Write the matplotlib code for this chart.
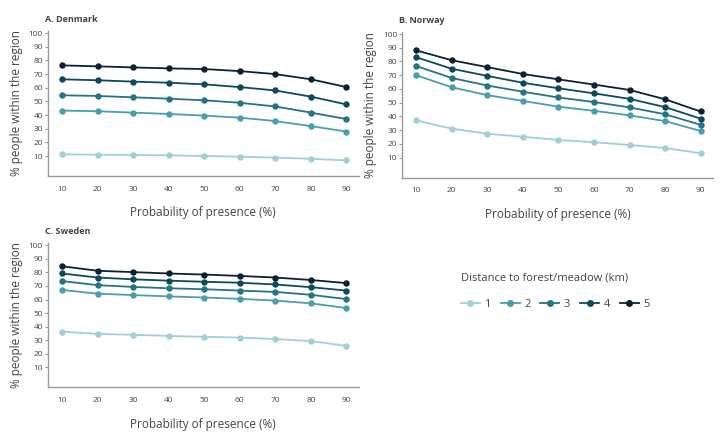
import matplotlib
matplotlib.use('Agg')
import matplotlib.pyplot as plt
from matplotlib.lines import Line2D

plt.rcParams['font.family'] = ['Open Sans', 'DejaVu Sans']

# Probability of presence (%)
prob = [10, 20, 30, 40, 50, 60, 70, 80, 90]

# Distance to forest/meadow: 1..5 km
distances = ['1', '2', '3', '4', '5']
colors = ['#9fcfd8', '#4b9eab', '#267483', '#0d4a5a', '#0b2233']

# A. Denmark
denmark_1 = [11.2, 11.0, 10.7, 10.5, 10.0, 9.5, 8.8, 8.0, 6.8]
denmark_2 = [43.3, 42.8, 41.8, 40.8, 39.6, 38.1, 35.6, 31.9, 27.9]
denmark_3 = [54.5, 54.0, 53.0, 52.0, 50.8, 49.0, 46.3, 41.8, 37.1]
denmark_4 = [66.2, 65.5, 64.5, 63.7, 62.5, 60.5, 58.0, 53.5, 47.8]
denmark_5 = [76.4, 75.7, 74.9, 74.2, 73.7, 72.2, 70.0, 66.2, 60.5]

# B. Norway
norway_1 = [37.1, 31.1, 27.4, 25.2, 22.9, 21.2, 19.2, 17.0, 13.2]
norway_2 = [70.0, 61.2, 55.5, 51.3, 47.1, 44.1, 40.8, 36.6, 29.4]
norway_3 = [76.7, 68.0, 62.5, 58.0, 53.8, 50.5, 46.6, 41.6, 33.9]
norway_4 = [83.1, 74.7, 69.5, 64.5, 60.5, 56.8, 52.8, 46.8, 38.4]
norway_5 = [88.1, 80.9, 75.9, 70.9, 67.0, 63.2, 59.3, 52.5, 43.6]

# C. Sweden
sweden_1 = [36.3, 34.7, 34.0, 33.2, 32.5, 32.0, 30.9, 29.4, 25.9]
sweden_2 = [67.1, 64.3, 63.3, 62.3, 61.5, 60.5, 59.2, 57.2, 53.7]
sweden_3 = [73.6, 70.6, 69.3, 68.3, 67.6, 66.6, 65.6, 63.5, 60.3]
sweden_4 = [79.2, 76.2, 74.9, 73.9, 73.1, 72.4, 71.1, 69.1, 66.6]
sweden_5 = [84.5, 81.2, 80.2, 79.2, 78.4, 77.4, 76.2, 74.4, 72.1]

panels = [
    ('A. Denmark', [denmark_1, denmark_2, denmark_3, denmark_4, denmark_5], [0.066, 0.593, 0.429, 0.335]),
    ('B. Norway', [norway_1, norway_2, norway_3, norway_4, norway_5], [0.5545, 0.589, 0.429, 0.337]),
    ('C. Sweden', [sweden_1, sweden_2, sweden_3, sweden_4, sweden_5], [0.066, 0.104, 0.429, 0.333]),
]

text_col = '#444444'
spine_col = '#9a9a9a'

fig = plt.figure(figsize=(7.25, 4.32), dpi=100)

for title, series, pos in panels:
    ax = fig.add_axes(pos)
    for vals, c in zip(series, colors):
        ax.plot(prob, vals, color=c, linewidth=1.3, marker='o', markersize=3.6, zorder=3)
    ax.set_xlim(6, 93.5)
    ax.set_ylim(-4.5, 101.5)
    ax.set_yticks(range(10, 101, 10))
    ax.set_xticks(prob)
    for side in ['top', 'right']:
        ax.spines[side].set_visible(False)
    for side in ['left', 'bottom']:
        ax.spines[side].set_color(spine_col)
        ax.spines[side].set_linewidth(1.0)
    ax.tick_params(axis='y', length=2, width=0.8, color=spine_col, labelsize=6, labelcolor=text_col, pad=1.5)
    ax.tick_params(axis='x', length=0, labelsize=6, labelcolor=text_col, pad=7)
    ax.set_xlabel('Probability of presence (%)', fontsize=8.5, color=text_col, labelpad=10)
    ax.set_ylabel('% people within the region', fontsize=8.5, color=text_col, labelpad=4)
    ax.text(-0.01, 1.05, title, transform=ax.transAxes, fontsize=6.5, fontweight='bold',
            color=text_col, ha='left', va='bottom')

handles = [Line2D([0], [0], color=c, linewidth=1.3, marker='o', markersize=4) for c in colors]
fig.legend(handles, distances, loc='center left', bbox_to_anchor=(0.622, 0.295),
           ncol=5, frameon=False, fontsize=8, labelcolor=text_col, handlelength=1.7,
           handletextpad=0.4, columnspacing=0.9)
fig.text(0.636, 0.357, 'Distance to forest/meadow (km)', fontsize=8, color=text_col, ha='left', va='center')

fig.savefig('out.png', dpi=100)
